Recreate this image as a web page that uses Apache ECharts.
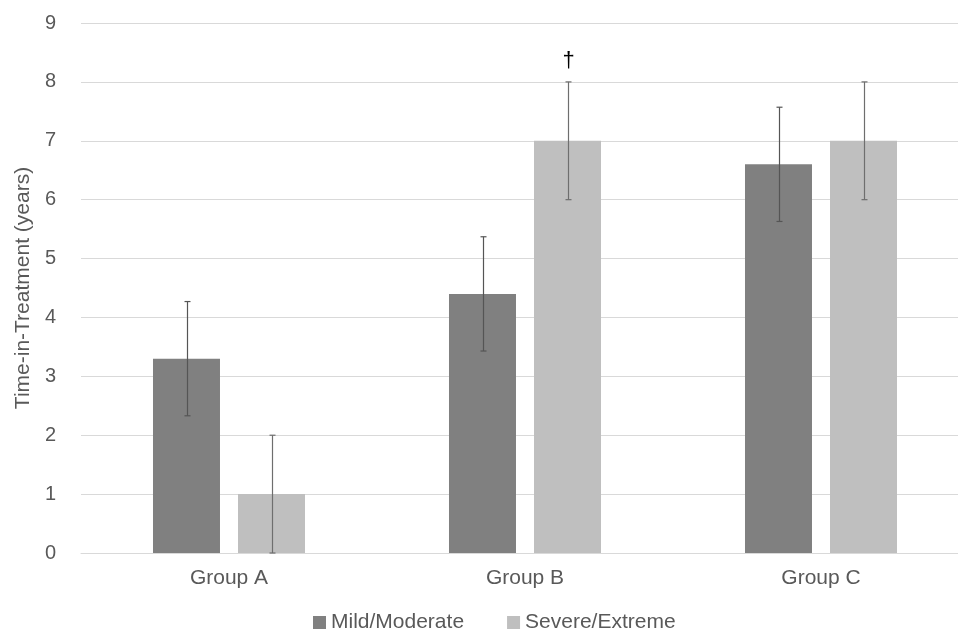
<!DOCTYPE html>
<html>
<head>
<meta charset="utf-8">
<script src="https://cdn.jsdelivr.net/npm/echarts@6/dist/echarts.min.js"></script>
<style>
html,body{margin:0;padding:0;background:#fff;overflow:hidden;width:958px;height:630px;}
#chart{width:980px;height:630px;}
</style>
</head>
<body>
<div id="chart"></div>
<script>
const categories = ['Group A', 'Group B', 'Group C'];
const seriesNames = ['Mild/Moderate', 'Severe/Extreme'];
const mildValues = [3.3, 4.4, 6.6];
const mildErrors = [0.97, 0.97, 0.97];
const severeValues = [1.0, 7.0, 7.0];
const severeErrors = [1.0, 1.0, 1.0];
const severeMarks = ['', '†', ''];
const yTicks = [0, 1, 2, 3, 4, 5, 6, 7, 8, 9];

const FONT = '"Liberation Sans", Arial, sans-serif';
const chart = echarts.init(document.getElementById('chart'), null, {renderer: 'canvas'});

function errData(values, errors, marks) {
  return values.map((v, i) => [i, v - errors[i], v + errors[i], marks ? marks[i] : '']);
}

function makeErrorSeries(idx, values, errors, marks, color, lw) {
  return {
    type: 'custom',
    name: seriesNames[idx] + ' error',
    z: 5,
    silent: true,
    data: errData(values, errors, marks),
    encode: {x: 0, y: [1, 2]},
    renderItem: function (params, api) {
      const ci = api.value(0);
      const lo = api.coord([ci, api.value(1)]);
      const hi = api.coord([ci, api.value(2)]);
      const bw = 67, gap = 18;
      const offset = idx === 0 ? -(gap / 2 + bw / 2) : (gap / 2 + bw / 2);
      const x = Math.round(lo[0] + offset) + 0.5;
      const cap = 3;
      const children = [
        {type: 'line', shape: {x1: x, y1: hi[1], x2: x, y2: lo[1]}, style: {stroke: color, lineWidth: lw}},
        {type: 'line', shape: {x1: x - cap, y1: hi[1], x2: x + cap, y2: hi[1]}, style: {stroke: color, lineWidth: lw}},
        {type: 'line', shape: {x1: x - cap, y1: lo[1], x2: x + cap, y2: lo[1]}, style: {stroke: color, lineWidth: lw}}
      ];
      const mark = api.value(3);
      if (mark) {
        children.push({type: 'text', style: {text: mark, x: x, y: hi[1] - 21, textAlign: 'center', textVerticalAlign: 'middle', font: '22px ' + FONT, fill: '#000'}});
      }
      return {type: 'group', children: children};
    }
  };
}

chart.setOption({
  animation: false,
  backgroundColor: '#fff',
  textStyle: {fontFamily: FONT},
  grid: {left: 81, top: 23, width: 888, height: 530, containLabel: false},
  legend: {
    data: seriesNames,
    left: 308,
    top: 607,
    itemWidth: 13,
    itemHeight: 13,
    itemGap: 43,
    icon: 'rect',
    textStyle: {fontSize: 21, color: '#595959', fontFamily: FONT}
  },
  xAxis: {
    type: 'category',
    data: categories,
    axisLine: {show: true, lineStyle: {color: '#d9d9d9', width: 1}},
    axisTick: {show: false},
    axisLabel: {fontSize: 21, color: '#595959', margin: 15, fontFamily: FONT}
  },
  yAxis: {
    type: 'value',
    min: yTicks[0],
    max: yTicks[yTicks.length - 1],
    interval: 1,
    name: 'Time-in-Treatment (years)',
    nameLocation: 'middle',
    nameGap: 47,
    nameTextStyle: {fontSize: 21, color: '#595959', fontFamily: FONT},
    axisLine: {show: false},
    axisTick: {show: false},
    splitLine: {lineStyle: {color: '#d9d9d9', width: 1}},
    axisLabel: {fontSize: 20, color: '#595959', margin: 25, fontFamily: FONT}
  },
  series: [
    {name: seriesNames[0], type: 'bar', data: mildValues, barWidth: 67, barGap: '26.9%', itemStyle: {color: '#808080'}},
    {name: seriesNames[1], type: 'bar', data: severeValues, barWidth: 67, itemStyle: {color: '#bfbfbf'}},
    makeErrorSeries(0, mildValues, mildErrors, null, '#555555', 1.2),
    makeErrorSeries(1, severeValues, severeErrors, severeMarks, '#6e6e6e', 1.2)
  ]
});
</script>
</body>
</html>
